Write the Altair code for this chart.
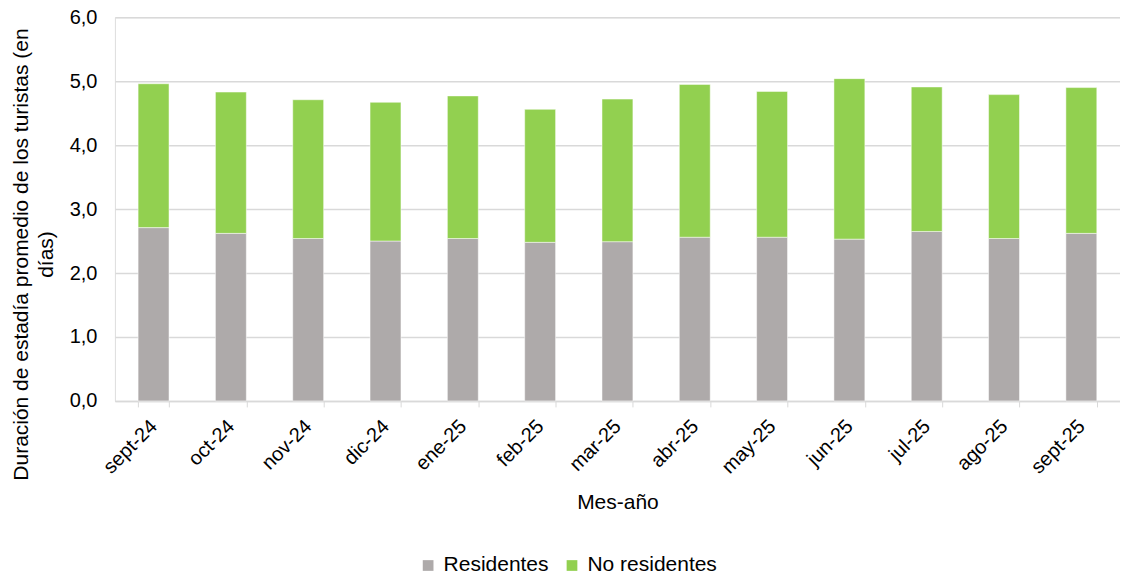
import altair as alt
import pandas as pd

meses = ["sept-24", "oct-24", "nov-24", "dic-24", "ene-25", "feb-25", "mar-25",
         "abr-25", "may-25", "jun-25", "jul-25", "ago-25", "sept-25"]
residentes = [2.71, 2.62, 2.54, 2.50, 2.54, 2.48, 2.49, 2.56, 2.56, 2.53, 2.65, 2.54, 2.62]
no_residentes = [2.25, 2.21, 2.17, 2.17, 2.23, 2.08, 2.23, 2.39, 2.28, 2.51, 2.26, 2.25, 2.28]
series = ["Residentes", "No residentes"]
colores = ["#aeaaaa", "#92d050"]

rows = []
for m, r, n in zip(meses, residentes, no_residentes):
    rows.append({"mes": m, "serie": series[0], "valor": r, "orden": 0})
    rows.append({"mes": m, "serie": series[1], "valor": n, "orden": 1})
df = pd.DataFrame(rows)

FONT = "Liberation Sans"

chart = alt.Chart(df).mark_bar(stroke="white", strokeWidth=0.5).encode(
    x=alt.X("mes:N", sort=meses,
            scale=alt.Scale(paddingInner=0.6, paddingOuter=0.3),
            axis=alt.Axis(title="Mes-año", labelAngle=-45, labelAlign="right",
                          labelBaseline="middle", labelFontSize=20, labelPadding=16,
                          labelColor="#000", labelFont=FONT,
                          tickBand="extent", ticks=True, tickSize=6, tickColor="#d9d9d9",
                          domainColor="#d9d9d9", domainWidth=1.5,
                          titleFontSize=21, titleFont=FONT, titleFontWeight="normal",
                          titleColor="#000", titleY=102, titleBaseline="middle")),
    y=alt.Y("valor:Q", stack="zero",
            scale=alt.Scale(domain=[0, 6]),
            axis=alt.Axis(title=["Duración de estadía promedio de los turistas (en", "días)"],
                          values=[0, 1, 2, 3, 4, 5, 6],
                          labelExpr="replace(format(datum.value, '.1f'), '.', ',')",
                          labelFontSize=20, labelFont=FONT, labelColor="#000",
                          labelPadding=18, ticks=False, domain=False,
                          gridColor="#d9d9d9", gridWidth=1.5,
                          titleFontSize=21, titleFont=FONT, titleFontWeight="normal",
                          titleColor="#000", titleAngle=-90, titleAlign="center",
                          titleBaseline="top", titleX=-104, titleY=237,
                          titleLineHeight=25)),
    color=alt.Color("serie:N", sort=series,
                    scale=alt.Scale(domain=series, range=colores),
                    legend=alt.Legend(title=None, orient="none", direction="horizontal",
                                      legendX=303, legendY=538, symbolType="square",
                                      symbolSize=115, symbolStrokeWidth=0,
                                      labelFontSize=21, labelFont=FONT, labelColor="#000",
                                      labelOffset=5, columnPadding=12)),
    order=alt.Order("orden:Q", sort="ascending"),
).properties(
    width=1006, height=384,
    autosize=alt.AutoSizeParams(type="none"),
    padding={"left": 107, "top": 9, "right": 0, "bottom": 174},
).configure_view(stroke=None).configure(background="white")

chart.save("out.html", embed_options={"renderer": "svg", "actions": False})
